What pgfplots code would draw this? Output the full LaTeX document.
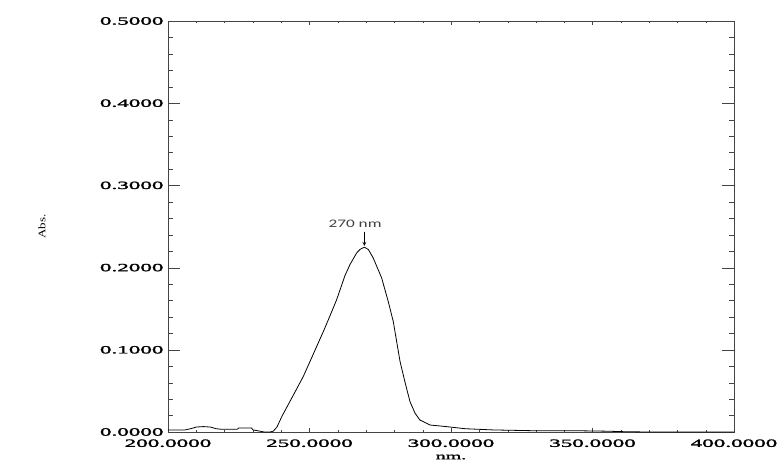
\documentclass[border=0pt]{standalone}
\usepackage{fontspec}
\usepackage{pgfplots}
\pgfplotsset{compat=1.18}
\newfontfamily\tickfont[FakeStretch=2.1,FakeBold=2]{Liberation Serif}
\newfontfamily\labfont[FakeStretch=1.3]{Liberation Serif}
\newfontfamily\annfont[FakeStretch=1.5]{Carlito}
\definecolor{axgray}{HTML}{444444}
\definecolor{anngray}{HTML}{404040}
\begin{document}
\begin{tikzpicture}
\useasboundingbox (-168bp,-29bp) rectangle (609bp,432bp);
\begin{axis}[
  at={(0,0)}, anchor=south west,
  scale only axis, width=566bp, height=411bp,
  xmin=200, xmax=400, ymin=0, ymax=0.5,
  xtick={200,250,300,350,400},
  ytick={0,0.1,0.2,0.3,0.4,0.5},
  minor x tick num=4, minor y tick num=4,
  tick align=inside,
  major tick length=12bp, minor tick length=5bp,
  x tick style={/pgfplots/major tick length=4bp,/pgfplots/minor tick length=2bp, axgray},
  y tick style={axgray},
  axis line style={axgray, line width=0.9pt},
  /pgf/number format/assume math mode=true,
  /pgf/number format/.cd, fixed, fixed zerofill, precision=4, 1000 sep={},
  /pgfplots/.cd,
  ticklabel style={font=\tickfont\fontsize{11bp}{12bp}\selectfont},
  yticklabel style={xshift=-1bp},
  xticklabel style={yshift=-4bp},
  xlabel={nm.},
  ylabel={Abs.},
  every axis x label/.style={at={(rel axis cs:0.5,0)}, anchor=center, yshift=-25bp, font=\tickfont\fontsize{9.5bp}{10bp}\selectfont},
  every axis y label/.style={at={(rel axis cs:0,0.5)}, anchor=center, xshift=-126bp, rotate=90, font=\labfont\fontsize{10bp}{11bp}\selectfont},
  clip=false,
]
\addplot[black, line width=0.8pt] coordinates {
(200,0.0024) (203,0.0024) (206,0.0025) (208,0.004) (210,0.006) (212.5,0.0066)
(215,0.006) (217,0.004) (219,0.0033) (224.5,0.0033) (225,0.0049) (229.5,0.0049)
(230,0.0026) (232.5,0.001) (234,0) (236,0) (237.2,0.001) (238.5,0.006)
(240.2,0.0187) (244,0.043) (247.8,0.0675) (251.5,0.096) (254.9,0.1223)
(257.2,0.141) (259.6,0.161) (260.8,0.173) (262.5,0.19) (264.3,0.2037)
(266.7,0.218) (268,0.2225) (269.4,0.2248) (270.8,0.222) (272.5,0.2118)
(275.5,0.1874) (277.8,0.159) (279.6,0.1345) (280.8,0.110) (282,0.0857)
(283.7,0.0613) (285.5,0.037) (287.3,0.0228) (289,0.0146) (292.6,0.0085)
(298.5,0.0065) (305,0.004) (315,0.0025) (330,0.0015) (345,0.0015)
(355,0.001) (362,0.0003) (370,0) (400,0)
};
\node[font=\annfont\fontsize{11.5bp}{13bp}\selectfont, text=anngray] at (axis cs:266.1,0.2537) {270 nm};
\draw[-stealth, black, line width=0.7pt] (axis cs:269.4,0.2435) -- (axis cs:269.4,0.2265);
\end{axis}
\end{tikzpicture}
\end{document}
